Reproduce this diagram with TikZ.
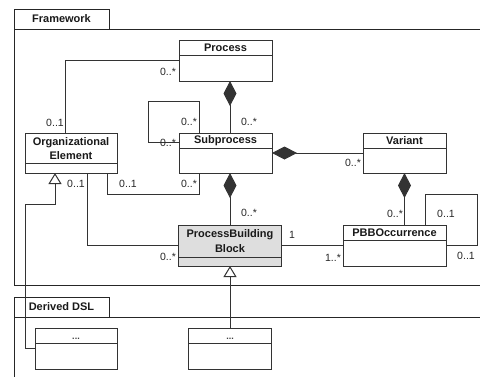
\documentclass[tikz,border=0pt]{standalone}
\usepackage{fontspec}
\setmainfont{Liberation Sans}
\usetikzlibrary{arrows.meta}
\tikzset{
  boxline/.style={draw=black!80, line width=1pt},
  cls/.style={boxline, fill=white, inner sep=0pt, outer sep=0pt, anchor=north west, rectangle},
  ttl/.style={font=\fontsize{11}{14.5}\selectfont\bfseries, align=center, inner sep=0pt, text=black!90},
  dots/.style={font=\fontsize{9}{10}\selectfont\bfseries, inner sep=0pt, anchor=base, text=black!75},
  mult/.style={font=\fontsize{10.5}{12}\selectfont, inner sep=0pt, text=black!85},
  conn/.style={draw=black!80, line width=1pt},
  comp/.style={conn, -{Diamond[length=25pt,width=13pt]}},
  gen/.style={conn, -{Triangle[open,length=11pt,width=13pt,fill=white]}},
  pkg/.style={draw=black!85, line width=1pt}
}
\begin{document}
\begin{tikzpicture}[x=1pt,y=-1pt]
\useasboundingbox (0,0) rectangle (480,376);
\clip (0,0) rectangle (480,376);
% packages
\draw[pkg] (14,9) rectangle (109,29);
\node[ttl] (fwname) at (61.5,19) {Framework};
\draw[pkg] (482,29) -- (14,29) -- (14,285) -- (482,285);
\draw[pkg] (14,378) -- (14,297) -- (109,297) -- (109,317);
\draw[pkg] (14,317) -- (482,317);
\node[ttl] (dslname) at (61.5,307) {Derived DSL};

% classes
\node[cls, minimum width=93pt, minimum height=41pt] (proc) at (179,40) {};
\draw[boxline] (179,55) -- (272,55);
\node[ttl] (proct) at (225.5,48) {Process};

\node[cls, minimum width=93pt, minimum height=40pt] (sub) at (179,133) {};
\draw[boxline] (179,148) -- (272,148);
\node[ttl] (subt) at (225.5,141) {Subprocess};

\node[cls, minimum width=92pt, minimum height=40pt] (org) at (25,133) {};
\draw[boxline] (25,163) -- (117,163);
\node[ttl] (orgt) at (71,148.5) {Organizational\\Element};

\node[cls, minimum width=83pt, minimum height=40pt] (var) at (363,133) {};
\draw[boxline] (363,148) -- (446,148);
\node[ttl] (vart) at (404.5,141) {Variant};

\node[cls, fill=black!13, minimum width=103pt, minimum height=41pt] (pbb) at (178.5,225) {};
\draw[boxline] (178.5,257) -- (281.5,257);
\node[ttl] (pbbt) at (230,241) {ProcessBuilding\\Block};

\node[cls, minimum width=103pt, minimum height=41pt] (pbbo) at (343,225) {};
\draw[boxline] (343,240) -- (446,240);
\node[ttl] (pbbot) at (394.5,233) {PBBOccurrence};

\node[cls, minimum width=82pt, minimum height=41pt] (d1) at (35,328) {};
\draw[boxline] (35,343) -- (117,343);
\node[dots] (d1t) at (76,339.5) {...};

\node[cls, minimum width=83pt, minimum height=41pt] (d2) at (188.5,328) {};
\draw[boxline] (188.5,343) -- (271.5,343);
\node[dots] (d2t) at (230,339.5) {...};

% connectors
\coordinate (subloop) at (148,101);
\coordinate (jso) at (107,194);
\coordinate (gen1) at (25,204);
\coordinate (loop2) at (477,194);

\draw[conn] (proc.west) -| ([xshift=-6pt]org.north);
\draw[comp] (pbb.north |- sub.north) -- (pbb.north |- proc.south);
\draw[conn] ([yshift=11pt]sub.west) -| (subloop) -| ([xshift=-26.5pt]sub.north);
\draw[comp] (var.west) -- (sub.east);
\draw[comp] (pbb.north) -- (pbb.north |- sub.south);
\draw[conn] ([xshift=-26.5pt]sub.south) |- (jso) -- (jso |- org.south);
\draw[conn] ([xshift=16pt]org.south) |- (pbb.west);
\draw[gen] (d1.west) -| (gen1) -| ([xshift=-16pt]org.south);
\draw[gen] (d2.north) -- (pbb.south);
\draw[conn] (pbb.east) -- (pbbo.west);
\draw[comp] (var.south |- pbbo.north) -- (var.south);
\draw[conn] ([xshift=30.5pt]pbbo.north) |- (loop2) |- (pbbo.east);

% multiplicities
\node[mult] (m1) at (168,72) {0..*};
\node[mult] (m2) at (55,123) {0..1};
\node[mult] (m3) at (249,122) {0..*};
\node[mult] (m4) at (189,122) {0..*};
\node[mult] (m5) at (168,143) {0..*};
\node[mult] (m6) at (76,184) {0..1};
\node[mult] (m7) at (128,184) {0..1};
\node[mult] (m8) at (189,184) {0..*};
\node[mult] (m9) at (353,163) {0..*};
\node[mult] (m10) at (249,213) {0..*};
\node[mult] (m11) at (168,257) {0..*};
\node[mult] (m12) at (292,235) {1};
\node[mult] (m13) at (333,258) {1..*};
\node[mult] (m14) at (395,214) {0..*};
\node[mult] (m15) at (446,214) {0..1};
\node[mult] (m16) at (466,256) {0..1};
\end{tikzpicture}
\end{document}
